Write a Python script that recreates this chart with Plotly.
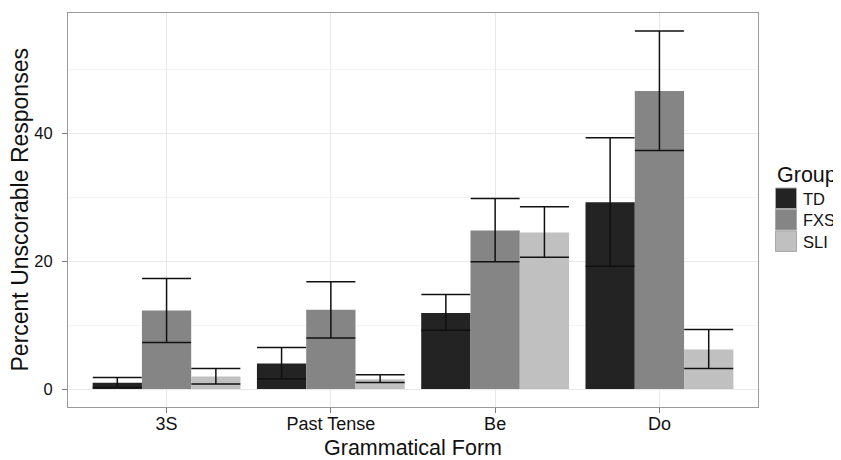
import plotly.graph_objects as go

# ---- data ----
forms = ["3S", "Past Tense", "Be", "Do"]
groups = ["TD", "FXS", "SLI"]
colors = ["#232323", "#858585", "#c0c0c0"]

td_mean = [1.0, 4.0, 11.9, 29.2]
td_low = [0.25, 1.6, 9.2, 19.2]
td_high = [1.8, 6.5, 14.8, 39.3]

fxs_mean = [12.3, 12.4, 24.8, 46.6]
fxs_low = [7.3, 8.0, 19.9, 37.3]
fxs_high = [17.3, 16.8, 29.8, 56.0]

sli_mean = [1.95, 1.55, 24.5, 6.2]
sli_low = [0.8, 1.05, 20.6, 3.2]
sli_high = [3.2, 2.25, 28.5, 9.3]

y_ticks = [0, 20, 40]
y_minor = [10, 30, 50]

means = [td_mean, fxs_mean, sli_mean]
lows = [td_low, fxs_low, sli_low]
highs = [td_high, fxs_high, sli_high]

# page body has an 8px margin, so the figure is drawn 8px in from the corner
OFF = 8
W, H = 841 - OFF, 460 - OFF
L, R, T, B = 68 - OFF, 83, 13 - OFF, 53
PW, PH = W - L - R, H - T - B

fig = go.Figure()
for g, c, m, lo, hi in zip(groups, colors, means, lows, highs):
    fig.add_trace(go.Bar(
        x=forms, y=m, name=g, marker=dict(color=c, line=dict(width=0)),
        error_y=dict(type="data", symmetric=False,
                     array=[h - v for h, v in zip(hi, m)],
                     arrayminus=[v - l for v, l in zip(m, lo)],
                     color="#111111", thickness=1.5, width=24.5),
        showlegend=False,
    ))

FONT = "Liberation Sans, Arial, sans-serif"

def px(x):  # screen pixel -> paper x
    return (x - OFF - L) / PW

def py(y):  # screen pixel -> paper y
    return (H - B - (y - OFF)) / PH

shapes = []
annotations = [
    dict(text="Group", x=px(775), y=py(175), xref="paper", yref="paper",
         xanchor="left", yanchor="middle", showarrow=False,
         font=dict(size=21.5, color="#111111", family=FONT)),
    dict(text="Grammatical Form", x=px(413), y=py(448), xref="paper", yref="paper",
         xanchor="center", yanchor="middle", showarrow=False,
         font=dict(size=21.5, color="#111111", family=FONT)),
    dict(text="Percent Unscorable Responses", x=px(19.5), y=py(210), xref="paper", yref="paper",
         xanchor="center", yanchor="middle", showarrow=False, textangle=-90,
         font=dict(size=23, color="#111111", family=FONT)),
]
key_top = 188
for i, (g, c) in enumerate(zip(groups, colors)):
    y0 = key_top + i * 21.5
    shapes.append(dict(type="rect", xref="paper", yref="paper",
                       x0=px(775.5), x1=px(796.5), y0=py(y0), y1=py(y0 + 20.5),
                       fillcolor=c, line=dict(color="#a8a8a8", width=1)))
    annotations.append(dict(text=g, x=px(801), y=py(y0 + 10.5), xref="paper", yref="paper",
                            xanchor="left", yanchor="middle", showarrow=False,
                            font=dict(size=16.5, color="#111111", family=FONT)))

fig.update_layout(
    width=W, height=H,
    margin=dict(l=L, r=R, t=T, b=B, autoexpand=False),
    paper_bgcolor="white", plot_bgcolor="white",
    barmode="group", bargap=0.1, bargroupgap=0,
    font=dict(family=FONT, color="#111111"),
    shapes=shapes, annotations=annotations,
    xaxis=dict(
        range=[-0.6, 3.6], showline=True, linecolor="#9a9a9a", linewidth=1, mirror=True,
        ticks="outside", ticklen=5, tickcolor="#7a7a7a", tickwidth=1,
        showgrid=True, gridcolor="#e8e8e8", gridwidth=1,
        tickfont=dict(size=18, color="#111111"), ticklabelstandoff=-5,
        automargin=False, zeroline=False,
    ),
    yaxis=dict(
        range=[-2.8, 58.8], tickvals=y_ticks, showline=True, linecolor="#9a9a9a",
        linewidth=1, mirror=True,
        ticks="outside", ticklen=5, tickcolor="#7a7a7a", tickwidth=1,
        showgrid=True, gridcolor="#e8e8e8", gridwidth=1,
        minor=dict(tickvals=y_minor, showgrid=True, gridcolor="#f4f4f4", gridwidth=1, ticks=""),
        tickfont=dict(size=16.5, color="#111111"), ticklabelstandoff=6,
        automargin=False, zeroline=False,
    ),
)

fig.write_html("out.html")
